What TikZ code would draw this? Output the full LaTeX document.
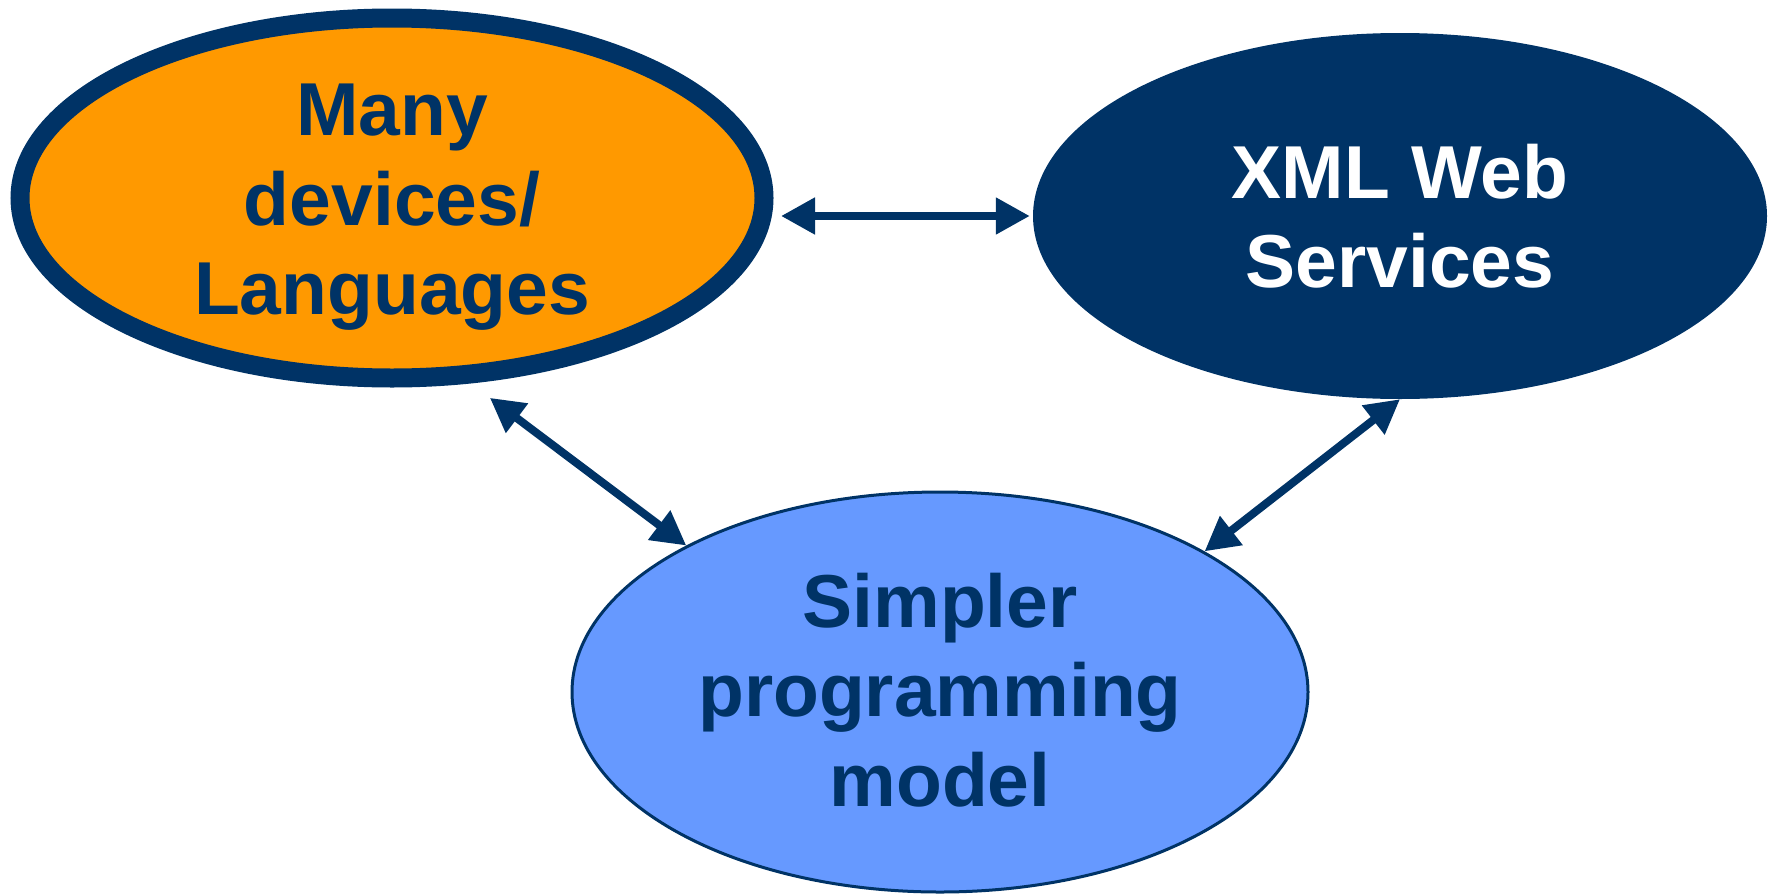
\documentclass[tikz,border=0pt]{standalone}
\usepackage{fontspec}
\setmainfont{Liberation Sans}
\usetikzlibrary{shapes.geometric,arrows.meta}
\definecolor{navy}{RGB}{0,51,102}
\definecolor{amber}{RGB}{255,153,0}
\definecolor{sky}{RGB}{102,153,255}
\begin{document}
\begin{tikzpicture}[x=1pt,y=-1pt,
    blob/.style={ellipse,inner sep=0pt},
    lbl/.style={align=center,font=\fontsize{75}{89.5}\selectfont\bfseries},
    link/.style={navy,line width=8pt,>={Triangle[length=34pt,width=35pt]},<->}]
  \useasboundingbox (0,0) rectangle (1776,894);
  \node[blob,draw=navy,line width=19pt,fill=amber,minimum width=744pt,minimum height=360pt] (dev) at (392,198) {};
  \node[lbl,navy] (devtxt) at ([yshift=-9.5pt]dev.center) {Many\\devices/\\Languages};
  \node[blob,fill=navy,minimum width=734pt,minimum height=366pt] (xml) at (1400,216) {};
  \node[lbl,white] (xmltxt) at (xml.center) {XML Web\\Services};
  \node[blob,draw=navy,line width=3pt,fill=sky,minimum width=736pt,minimum height=400pt] (sim) at (940,692) {};
  \node[lbl,navy] (simtxt) at ([yshift=2pt]sim.center) {Simpler\\programming\\model};
  % arrows between the three
  \draw[link,shorten <=7.5pt,shorten >=3pt] (dev.east |- xml.west) -- (xml.west);
  \draw[link,shorten <=24pt] (dev.-67) -- (sim.150.7);
  \draw[link] (xml.south) -- (sim.28.5);
\end{tikzpicture}
\end{document}
